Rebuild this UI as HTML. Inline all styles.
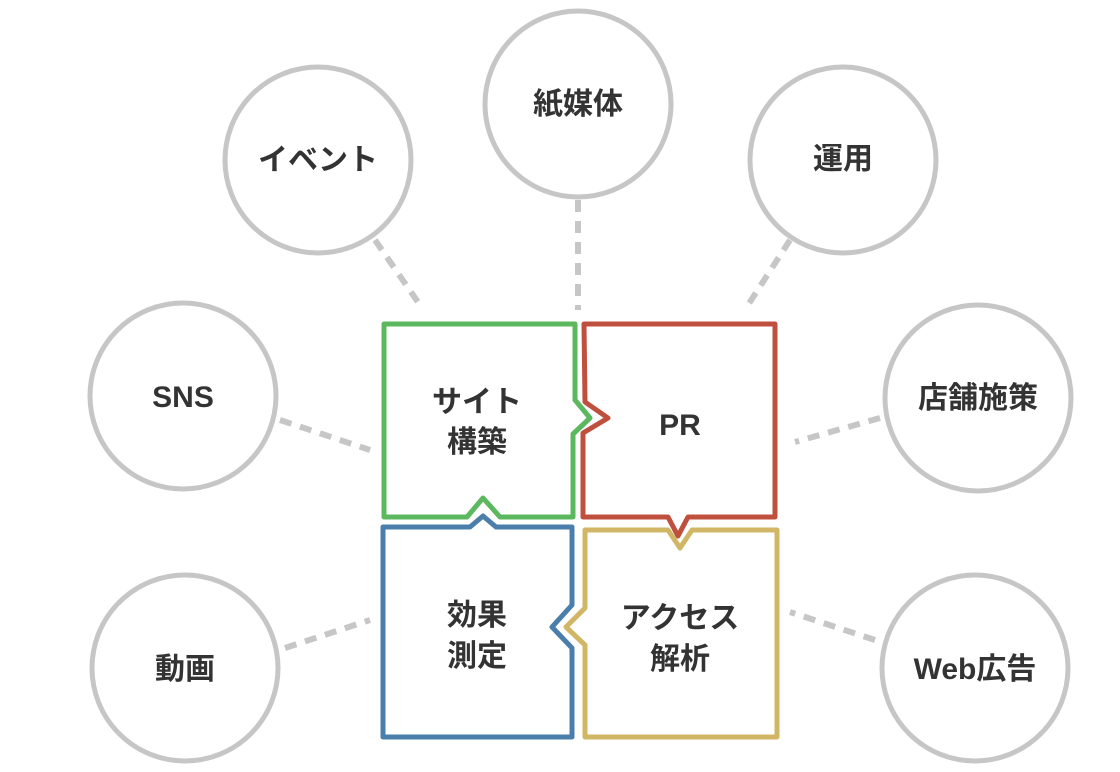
<!DOCTYPE html>
<html><head><meta charset="utf-8"><style>
html,body{margin:0;padding:0;background:#fff;}
svg{display:block}
text{font-family:"Liberation Sans","Noto Sans CJK JP",sans-serif;font-size:30px;fill:#333;text-anchor:middle;font-weight:700}
</style></head><body>
<svg width="1120" height="772" viewBox="0 0 1120 772" xmlns="http://www.w3.org/2000/svg">
<g fill="none" stroke="#c6c6c6" stroke-width="5">
<circle cx="578" cy="104" r="93"/>
<circle cx="318" cy="160" r="93"/>
<circle cx="843" cy="160" r="93"/>
<circle cx="183" cy="396" r="93"/>
<circle cx="978" cy="398" r="93"/>
<circle cx="185" cy="668" r="93"/>
<circle cx="975" cy="668" r="93"/>
</g>
<g stroke="#c6c6c6" stroke-width="6" stroke-dasharray="12 9" fill="none">
<line x1="375" y1="240" x2="420" y2="305"/>
<line x1="578" y1="200" x2="578" y2="310"/>
<line x1="790" y1="240" x2="748" y2="305"/>
<line x1="280" y1="420" x2="370" y2="450"/>
<line x1="880" y1="418" x2="795" y2="442"/>
<line x1="285" y1="648" x2="370" y2="620"/>
<line x1="875" y1="640" x2="790" y2="612"/>
</g>
<g fill="none" stroke-width="5" stroke-linejoin="round">
<path d="M384 324 L575 324 L575 400 L590 418 L573 434 L573 517 L500 517 L483 498 L467 517 L384 517 Z" stroke="#5cb85f"/>
<path d="M584 324 L775 324 L775 517 L688 517 L678 536 L668 517 L583 517 L583 433 L608 418 L585 402 Z" stroke="#c0503e"/>
<path d="M383 527 L470 527 L483 516 L496 527 L572 527 L572 605 L552 627 L572 648 L572 737 L383 737 Z" stroke="#4a7fac"/>
<path d="M585 530 L668 530 L680 548 L692 530 L777 530 L777 737 L585 737 L585 645 L566 627 L585 608 Z" stroke="#d1b765"/>
</g>
<text x="578" y="114">紙媒体</text>
<text x="318" y="170">イベント</text>
<text x="843" y="169">運用</text>
<text x="183" y="407">SNS</text>
<text x="978" y="408">店舗施策</text>
<text x="185" y="679">動画</text>
<text x="975" y="679">Web広告</text>
<text x="477" y="412">サイト</text>
<text x="477" y="452">構築</text>
<text x="680" y="435">PR</text>
<text x="477" y="625">効果</text>
<text x="477" y="666">測定</text>
<text x="680" y="628">アクセス</text>
<text x="680" y="669">解析</text>
</svg>
</body></html>
